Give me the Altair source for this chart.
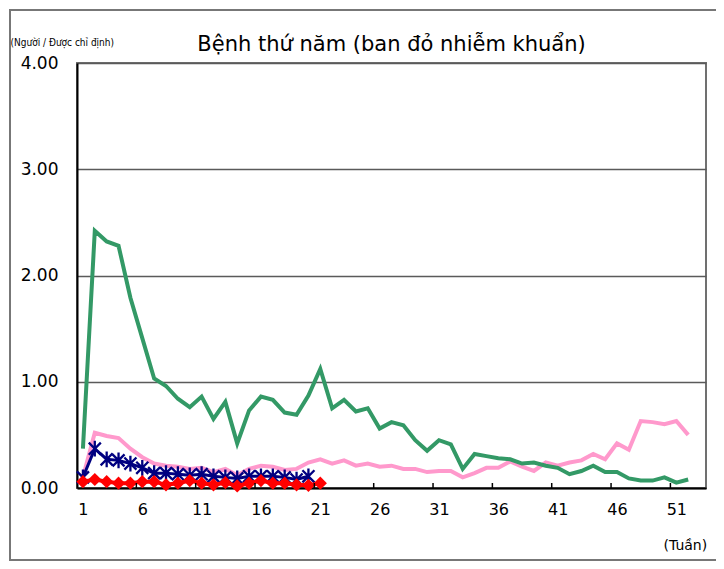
import altair as alt
import pandas as pd

# ---- data ----
weeks = list(range(1, 53))
green = [0.37, 2.42, 2.32, 2.28, 1.79, 1.41, 1.03, 0.96, 0.84, 0.76,
         0.86, 0.65, 0.81, 0.42, 0.73, 0.86, 0.83, 0.71, 0.69, 0.87,
         1.12, 0.75, 0.83, 0.72, 0.75, 0.56, 0.62, 0.59, 0.45, 0.35,
         0.45, 0.41, 0.18, 0.32, 0.30, 0.28, 0.27, 0.23, 0.24, 0.21,
         0.19, 0.13, 0.16, 0.21, 0.15, 0.15, 0.09, 0.07, 0.07, 0.10,
         0.05, 0.08]
pink = [0.10, 0.52, 0.49, 0.47, 0.37, 0.29, 0.23, 0.21, 0.20, 0.18,
        0.19, 0.15, 0.18, 0.12, 0.18, 0.21, 0.20, 0.17, 0.18, 0.24,
        0.27, 0.23, 0.26, 0.21, 0.23, 0.20, 0.21, 0.18, 0.18, 0.15,
        0.16, 0.16, 0.10, 0.14, 0.19, 0.19, 0.25, 0.20, 0.16, 0.24,
        0.21, 0.24, 0.26, 0.32, 0.27, 0.42, 0.36, 0.63, 0.62, 0.60,
        0.63, 0.50]
navy = [0.10, 0.37, 0.27, 0.26, 0.23, 0.19, 0.14, 0.14, 0.13, 0.12,
        0.13, 0.11, 0.10, 0.09, 0.11, 0.11, 0.11, 0.10, 0.08, 0.11]
red = [0.06, 0.08, 0.06, 0.045, 0.045, 0.06, 0.06, 0.03, 0.045, 0.07,
       0.045, 0.03, 0.05, 0.02, 0.045, 0.07, 0.045, 0.045, 0.03, 0.025,
       0.045]

x_labels = [1, 6, 11, 16, 21, 26, 31, 36, 41, 46, 51]
x_tick_bounds = [5.5, 10.5, 15.5, 20.5, 25.5, 30.5, 35.5, 40.5, 45.5, 50.5]
y_ticks = [0, 1, 2, 3, 4]

title_text = "Bệnh thứ năm (ban đỏ nhiễm khuẩn)"
y_title = "(Người / Được chỉ định)"
x_title = "(Tuần)"

FONT = "DejaVu Sans"
NARROW = "Liberation Sans Narrow, DejaVu Sans Condensed, DejaVu Sans"
W, H = 629, 425

def frame(vals):
    return pd.DataFrame({"week": weeks[:len(vals)], "value": vals})

xscale = alt.Scale(domain=[0.5, 53.5], nice=False, zero=False)
yscale = alt.Scale(domain=[0, 4], nice=False)

x_enc = alt.X("week:Q", scale=xscale,
              axis=alt.Axis(values=x_labels, format="d", ticks=False, grid=False,
                            labelFontSize=16, labelFont=FONT, labelColor="black",
                            labelPadding=13, domainColor="black", domainWidth=2,
                            title=x_title, titleFont=FONT, titleFontSize=14,
                            titleFontWeight="normal", titleColor="black",
                            titleAngle=0, titleAlign="left", titleBaseline="middle",
                            titleX=586, titleY=57))
y_enc = alt.Y("value:Q", scale=yscale,
              axis=alt.Axis(values=y_ticks, format=".2f", ticks=False, grid=True,
                            gridColor="#5a5a5a", gridWidth=1.5,
                            labelFontSize=17, labelFont=FONT, labelColor="black",
                            labelPadding=19, domainColor="black", domainWidth=2,
                            title=y_title, titleFont=NARROW,
                            titleFontSize=10, titleFontWeight="normal",
                            titleColor="black", titleAngle=0, titleAlign="left",
                            titleBaseline="middle", titleX=-67, titleY=-21))

asterisk = "M-1,-1L1,1M-1,1L1,-1M0,-1.3L0,1.3"

pink_layer = alt.Chart(frame(pink)).mark_line(
    color="#ff99cc", strokeWidth=4).encode(x=x_enc, y=y_enc)
green_layer = alt.Chart(frame(green)).mark_line(
    color="#339966", strokeWidth=4).encode(x="week:Q", y="value:Q")
navy_layer = alt.Chart(frame(navy)).mark_line(
    color="#000080", strokeWidth=3,
    point=alt.OverlayMarkDef(shape=asterisk, filled=False, stroke="#000080",
                             strokeWidth=2.3, size=145)
).encode(x="week:Q", y="value:Q")
red_layer = alt.Chart(frame(red)).mark_line(
    color="#ff0000", strokeWidth=4,
    point=alt.OverlayMarkDef(shape="diamond", filled=True, color="#ff0000",
                             size=175)
).encode(x="week:Q", y="value:Q")

ticks_layer = alt.Chart(pd.DataFrame({"b": x_tick_bounds})).mark_rule(
    color="black", strokeWidth=1.5).encode(
    x="b:Q", y=alt.value(H - 5), y2=alt.value(H))

one = pd.DataFrame({"t": [title_text]})
title_layer = alt.Chart(one).mark_text(
    font=FONT, fontSize=21, color="black", align="center",
    baseline="middle").encode(
    text="t:N", x=alt.value(W / 2), y=alt.value(-18))

border = alt.Chart(pd.DataFrame({"a": [0]})).mark_rect(
    fill=None, stroke="#777777", strokeWidth=2).encode(
    x=alt.value(-67), x2=alt.value(W + 12), y=alt.value(-53), y2=alt.value(H + 72))

chart = alt.layer(
    pink_layer, green_layer, navy_layer, red_layer, ticks_layer,
    title_layer, border
).properties(
    width=W, height=H,
    autosize=alt.AutoSizeParams(type="none"),
    padding={"left": 69, "top": 55, "right": 10, "bottom": 73},
).configure_view(stroke="#707070", strokeWidth=2)

chart.save("out.html", embed_options={"renderer": "svg", "actions": False})
